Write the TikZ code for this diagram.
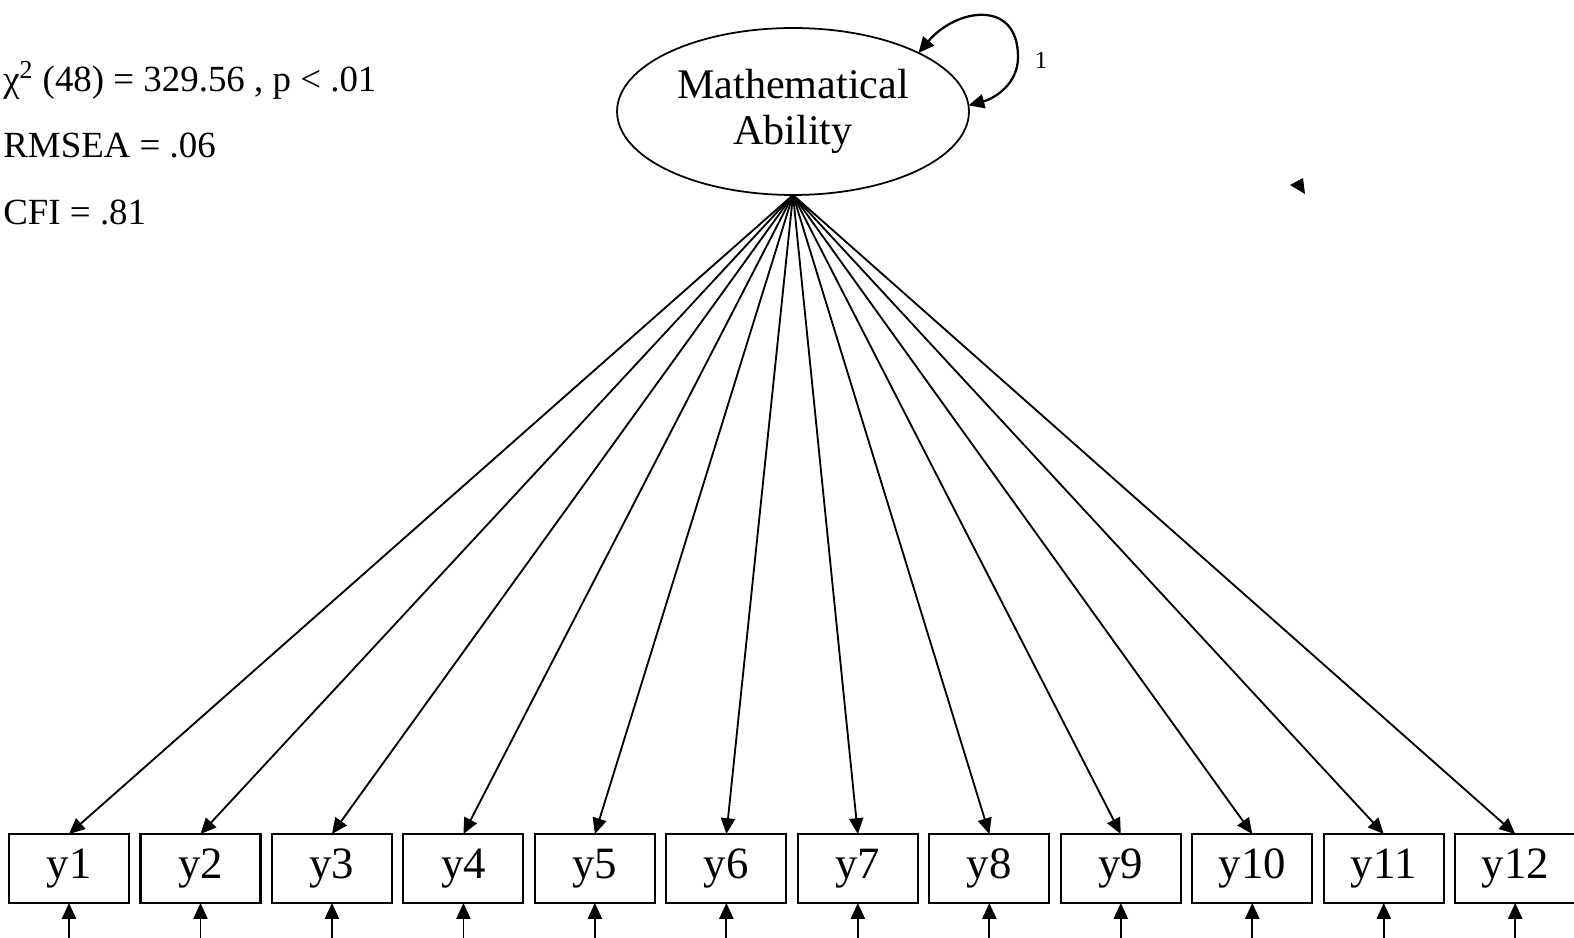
\documentclass[tikz,border=0pt]{standalone}
\usepackage{fontspec}
\setmainfont{Liberation Serif}
\usetikzlibrary{arrows.meta, positioning, shapes.geometric}

\begin{document}
\begin{tikzpicture}[
    x=0.02cm, y=0.02cm,
    node distance=0.23cm,
    >={Triangle[length=9pt, width=8pt]},
    obs/.style={rectangle, draw, line width=1.2pt, outer sep=0pt, inner sep=0pt,
                minimum width=2.4cm, minimum height=1.38cm, font=\fontsize{25.5}{30}\selectfont},
    lat/.style={ellipse, draw, line width=1pt, outer sep=0pt, inner sep=0pt,
                minimum width=7.04cm, minimum height=3.34cm, align=center,
                font=\fontsize{24}{26}\selectfont},
    fitstat/.style={anchor=base west, inner sep=0pt, font=\fontsize{21}{25}\selectfont},
    arr/.style={->, line width=1.05pt}
]
\useasboundingbox (0,0) rectangle (1574,937);

% latent factor and fit indices
\node[lat] (math) at (793,825.5) {Mathematical\\Ability};
\node[fitstat] (chisq) at (3,845.5) {χ\textsuperscript{2} (48) = 329.56 , p < .01};
\node[fitstat] (rmsea) at (3,779) {RMSEA = .06};
\node[fitstat] (cfi)   at (3,712) {CFI = .81};

% indicators
\node[obs] (y1) at (69,68.5) {y1};
\node[obs, right=of y1]  (y2)  {y2};
\node[obs, right=of y2]  (y3)  {y3};
\node[obs, right=of y3]  (y4)  {y4};
\node[obs, right=of y4]  (y5)  {y5};
\node[obs, right=of y5]  (y6)  {y6};
\node[obs, right=of y6]  (y7)  {y7};
\node[obs, right=of y7]  (y8)  {y8};
\node[obs, right=of y8]  (y9)  {y9};
\node[obs, right=of y9]  (y10) {y10};
\node[obs, right=of y10] (y11) {y11};
\node[obs, right=of y11] (y12) {y12};

% error terms (below the page edge)
\coordinate[below=0.8cm of y1]  (e1);
\coordinate[below=0.8cm of y2]  (e2);
\coordinate[below=0.8cm of y3]  (e3);
\coordinate[below=0.8cm of y4]  (e4);
\coordinate[below=0.8cm of y5]  (e5);
\coordinate[below=0.8cm of y6]  (e6);
\coordinate[below=0.8cm of y7]  (e7);
\coordinate[below=0.8cm of y8]  (e8);
\coordinate[below=0.8cm of y9]  (e9);
\coordinate[below=0.8cm of y10] (e10);
\coordinate[below=0.8cm of y11] (e11);
\coordinate[below=0.8cm of y12] (e12);

% loadings
\draw[arr] (math.south) -- (y1.north);
\draw[arr] (math.south) -- (y2.north);
\draw[arr] (math.south) -- (y3.north);
\draw[arr] (math.south) -- (y4.north);
\draw[arr] (math.south) -- (y5.north);
\draw[arr] (math.south) -- (y6.north);
\draw[arr] (math.south) -- (y7.north);
\draw[arr] (math.south) -- (y8.north);
\draw[arr] (math.south) -- (y9.north);
\draw[arr] (math.south) -- (y10.north);
\draw[arr] (math.south) -- (y11.north);
\draw[arr] (math.south) -- (y12.north);

\draw[arr] (e1) -- (y1);
\draw[arr] (e2) -- (y2);
\draw[arr] (e3) -- (y3);
\draw[arr] (e4) -- (y4);
\draw[arr] (e5) -- (y5);
\draw[arr] (e6) -- (y6);
\draw[arr] (e7) -- (y7);
\draw[arr] (e8) -- (y8);
\draw[arr] (e9) -- (y9);
\draw[arr] (e10) -- (y10);
\draw[arr] (e11) -- (y11);
\draw[arr] (e12) -- (y12);

% variance
\coordinate (vright) at (1018,880);
\draw[arr, <->, line width=1.3pt] (math.25) to[out=50, in=90, looseness=1.5] (vright)
    to[out=-90, in=15] (math.2);
\node[font=\fontsize{14}{16}\selectfont, inner sep=0pt] (varlab) at (1041,877) {1};

% stray tip
\fill (1290,752) -- (1303,759) -- (1305,743) -- cycle;

\end{tikzpicture}
\end{document}
